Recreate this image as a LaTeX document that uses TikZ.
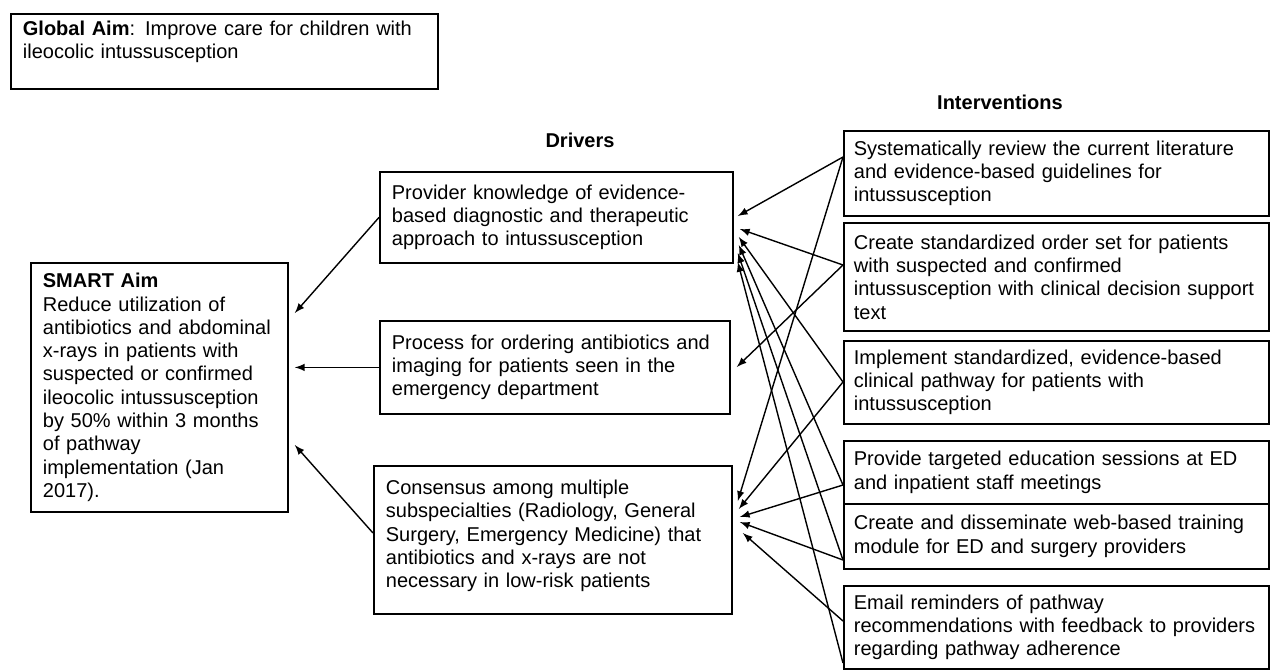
\documentclass[tikz,border=0pt]{standalone}
\usepackage{fontspec}
\setmainfont{Liberation Sans}
\usepackage{tikz}
\usetikzlibrary{shapes,arrows,positioning,calc}
\usepackage{xcolor}

\newcommand{\bodyfont}{\fontsize{10pt}{11.65pt}\selectfont}

\begin{document}
\begin{tikzpicture}[x=0.5pt,y=-0.5pt,
    box/.style={draw, line width=0.9pt, anchor=north west, inner xsep=6pt, inner ysep=2pt, align=left, font=\bodyfont},
    intbox/.style={box, inner xsep=5pt, text width=202.5pt, minimum width=212.5pt},
    link/.style={line width=0.7pt, -latex},
    head/.style={font=\bodyfont\bfseries}]
    \path[use as bounding box, fill=white] (0,0) rectangle (1270,671);
    % Aims
    \node[box, text width=201.5pt, minimum width=213.5pt, minimum height=37.5pt] (global) at (10,13)
        {\textbf{Global Aim}: Improve care for children with\\ ileocolic intussusception\\ \mbox{}};
    \node[box, text width=116.5pt, minimum width=128.5pt, minimum height=124.5pt] (smart) at (30,262)
        {\textbf{SMART Aim}\\ Reduce utilization of\\ antibiotics and abdominal\\ x-rays in patients with\\ suspected or confirmed\\ ileocolic intussusception\\ by 50\% within 3 months\\ of pathway\\ implementation (Jan\\ 2017).};
    % Drivers
    \node[head] (drivers) at (580,140) {Drivers};
    \node[box, text width=164.5pt, minimum width=176.5pt, minimum height=45.5pt] (d1) at (379,171)
        {Provider knowledge of evidence-\\ based diagnostic and therapeutic\\ approach to intussusception};
    \node[box, text width=163pt, minimum width=175pt, minimum height=46.5pt] (d2) at (379,320)
        {Process for ordering antibiotics and\\ imaging for patients seen in the\\ emergency department};
    \node[box, text width=167pt, minimum width=179pt, minimum height=74pt] (d3) at (373,465)
        {Consensus among multiple\\ subspecialties (Radiology, General\\ Surgery, Emergency Medicine) that\\ antibiotics and x-rays are not\\ necessary in low-risk patients\\[-5.5pt] \mbox{}};
    % Interventions
    \node[head] (interventions) at (1000,102) {Interventions};
    \node[intbox, minimum height=42.5pt] (i1) at (843,130)
        {Systematically review the current literature\\ and evidence-based guidelines for\\ intussusception};
    \node[intbox, minimum height=54pt] (i2) at (843,222)
        {Create standardized order set for patients\\ with suspected and confirmed\\ intussusception with clinical decision support\\ text};
    \node[intbox, minimum height=41.5pt] (i3) at (843,340)
        {Implement standardized, evidence-based\\ clinical pathway for patients with\\ intussusception};
    \node[intbox, minimum height=31.5pt] (i4) at (843,440)
        {Provide targeted education sessions at ED\\ and inpatient staff meetings};
    \node[intbox, minimum height=32.5pt] (i5) at (843,503)
        {Create and disseminate web-based training\\ module for ED and surgery providers};
    \node[intbox, minimum height=41.5pt] (i6) at (843,585)
        {Email reminders of pathway\\ recommendations with feedback to providers\\ regarding pathway adherence};
    % Drivers to SMART aim
    \draw[link] (d1.west) -- ($(smart.north east)+(6,51)$);
    \draw[link] (d2.west) -- ($(d2.west -| smart.east)+(6,0)$);
    \draw[link] ($(d3.north west)+(0,68)$) -- ($(smart.north east)+(6,183)$);
    % Interventions to drivers
    \draw[link] ($(i1.north west)+(0,27)$) -- ($(d1.north east)+(4,45)$);
    \draw[link] ($(i1.north west)+(0,27)$) -- ($(d3.north east)+(5,36)$);
    \draw[link] ($(i2.north west)+(0,43)$) -- ($(d1.north east)+(6,58)$);
    \draw[link] ($(i2.north west)+(0,43)$) -- ($(d2.north east)+(6,47)$);
    \draw[link] ($(i3.north west)+(0,42)$) -- ($(d1.north east)+(5,66)$);
    \draw[link] ($(i3.north west)+(0,42)$) -- ($(d3.north east)+(6,44)$);
    \draw[link] ($(i4.north west)+(0,45)$) -- ($(d1.north east)+(5,74)$);
    \draw[link] ($(i4.north west)+(0,45)$) -- ($(d3.north east)+(7,52)$);
    \draw[link] ($(i5.north west)+(0,57)$) -- ($(d1.north east)+(4,82)$);
    \draw[link] ($(i5.north west)+(0,57)$) -- ($(d3.north east)+(7,57)$);
    \draw[link] ($(i6.north west)+(0,36)$) -- ($(d3.north east)+(10,68)$);
    \draw[link] ($(i6.north west)+(0,78)$) -- ($(d1.north east)+(4,91)$);
\end{tikzpicture}
\end{document}
